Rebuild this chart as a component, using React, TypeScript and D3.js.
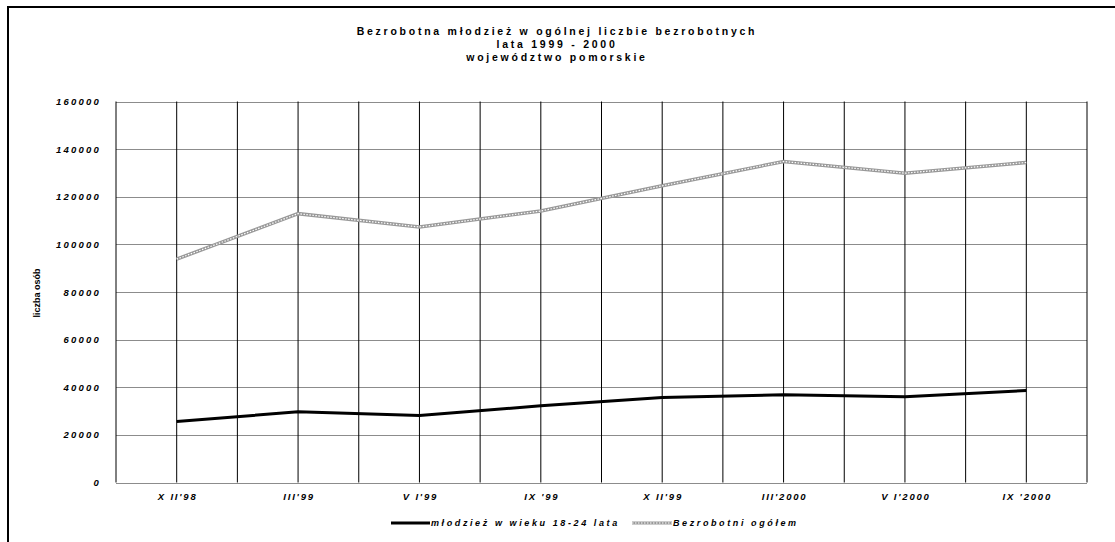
import React from 'react'
import * as d3 from 'd3'

// categories and series
const categories = ["XII'98", "III'99", "VI'99", "IX'99", "XII'99", "III'2000", "VI'2000", "IX'2000"]
const categoryLabels = ["X II'98", "III'99", "V I'99", "IX '99", "X II'99", "III'2000", "V I'2000", "IX '2000"]
const youth = [25600, 29700, 28100, 32200, 35700, 36800, 36000, 38600]
const total = [93800, 112900, 107300, 114000, 124600, 134800, 129900, 134400]
const yTicks = [0, 20000, 40000, 60000, 80000, 100000, 120000, 140000, 160000]
const titleLines = ['Bezrobotna młodzież w ogólnej liczbie bezrobotnych', 'lata 1999 - 2000', 'województwo pomorskie']
const legendLabels = ['młodzież w wieku 18-24 lata', 'Bezrobotni ogółem']

const W = 1115
const H = 542
const plot = { left: 116, right: 1087, top: 101.5, bottom: 482.5 }
const font = 'Arial, "Liberation Sans", sans-serif'

export default function App() {
  const x = d3.scaleBand<string>().domain(categories).range([plot.left, plot.right]).padding(0)
  const y = d3.scaleLinear().domain([0, 160000]).range([plot.bottom, plot.top])
  const cx = (c: string) => (x(c) as number) + x.bandwidth() / 2

  const line = d3.line<number>()
    .x((_, i) => cx(categories[i]))
    .y(d => y(d))

  // vertical lines: category boundaries and centers
  const vLines: number[] = []
  categories.forEach(c => {
    vLines.push(x(c) as number)
    vLines.push(cx(c))
  })
  vLines.push(plot.right)

  return (
    <div style={{ position: 'absolute', left: 0, top: 0 }}>
      <svg width={W} height={H} style={{ display: 'block', fontFamily: font }}>
        <rect x={0} y={0} width={W} height={H} fill="#fff" />
        <rect x={8} y={7} width={W + 20} height={H + 20} fill="none" stroke="#000" strokeWidth={2} />

        {/* title */}
        {titleLines.map((t, i) => (
          <text key={t} x={557} y={35 + i * 13} textAnchor="middle" fontSize={10.5} fontWeight="bold" letterSpacing={2.75} fill="#000">
            {t}
          </text>
        ))}

        {/* horizontal gridlines */}
        {yTicks.map(v => (
          <line key={v} x1={plot.left} x2={plot.right} y1={Math.round(y(v)) + 0.5} y2={Math.round(y(v)) + 0.5} stroke="#8c8c8c" strokeWidth={1} />
        ))}

        {/* vertical gridlines */}
        {vLines.map((vx, i) => (
          <line key={i} x1={vx} x2={vx} y1={plot.top} y2={plot.bottom} stroke="#000" strokeWidth={1} />
        ))}

        {/* y ticks */}
        {yTicks.map(v => (
          <text key={v} x={101} y={y(v) + 3.5} textAnchor="end" fontSize={9.5} fontWeight="bold" fontStyle="italic" letterSpacing={2.2} fill="#000">
            {v}
          </text>
        ))}

        {/* y axis title */}
        <text transform={`translate(40,293) rotate(-90)`} textAnchor="middle" fontSize={9} fontWeight="bold" fill="#000">
          liczba osób
        </text>

        {/* x ticks */}
        {categories.map((c, i) => (
          <text key={c} x={cx(c) + 1} y={500} textAnchor="middle" fontSize={9.5} fontWeight="bold" fontStyle="italic" letterSpacing={1.8} fill="#000">
            {categoryLabels[i]}
          </text>
        ))}

        {/* series: total (textured grey) */}
        <path d={line(total) || ''} fill="none" stroke="#999" strokeWidth={3.5} />
        <path d={line(total) || ''} fill="none" stroke="#fff" strokeWidth={1.2} strokeDasharray="1.5 1.5" />

        {/* series: youth */}
        <path d={line(youth) || ''} fill="none" stroke="#000" strokeWidth={3} />

        {/* legend */}
        <line x1={391} x2={430} y1={523} y2={523} stroke="#000" strokeWidth={3} />
        <text x={431} y={526} fontSize={9} fontWeight="bold" fontStyle="italic" letterSpacing={2.6} fill="#000">
          {legendLabels[0]}
        </text>
        <line x1={632} x2={672} y1={523} y2={523} stroke="#999" strokeWidth={3} />
        <line x1={632} x2={672} y1={523} y2={523} stroke="#fff" strokeWidth={1} strokeDasharray="1.5 1.5" />
        <text x={673} y={526} fontSize={9} fontWeight="bold" fontStyle="italic" letterSpacing={2.6} fill="#000">
          {legendLabels[1]}
        </text>
      </svg>
    </div>
  )
}
